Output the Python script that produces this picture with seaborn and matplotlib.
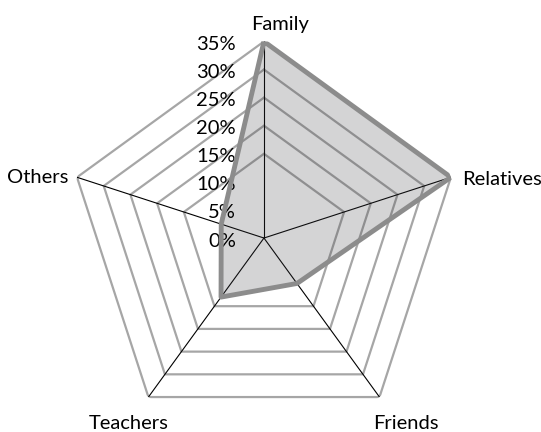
import numpy as np
import matplotlib
matplotlib.use("Agg")
import matplotlib.pyplot as plt
import matplotlib.transforms as mtransforms
import seaborn as sns
import pandas as pd

categories = ["Family", "Relatives", "Friends", "Teachers", "Others"]
values = [35, 35, 10, 13, 8]
tick_values = [0, 5, 10, 15, 20, 25, 30, 35]
tick_labels = ["0%", "5%", "10%", "15%", "20%", "25%", "30%", "35%"]
grid_levels = [15, 20, 25, 30, 35]

sns.set_style("white")
plt.rcParams['font.family'] = ['Lato', 'DejaVu Sans']

fig = plt.figure(figsize=(5.41, 4.32), dpi=100)
ax = fig.add_axes([0.1245, -0.006, 0.7268, 0.910], projection='polar')
ax.set_theta_offset(np.pi / 2)
ax.set_theta_direction(-1)
n = len(categories)
theta = np.arange(n) * 2 * np.pi / n
closed_theta = np.append(theta, theta[0])
rmax = max(tick_values)
ax.set_ylim(0, rmax)
ax.grid(False)
ax.spines['polar'].set_visible(False)
ax.set_xticks([])
ax.set_yticks([])
ax.patch.set_alpha(0)

for lv in grid_levels:
    ax.plot(closed_theta, [lv] * (n + 1), color='#a6a6a6', lw=1.6, zorder=2)
for t in theta:
    ax.plot([t, t], [0, rmax], color='black', lw=0.8, zorder=2.2)

df = pd.DataFrame({'theta': closed_theta, 'value': values + [values[0]]})
ax.fill(df['theta'], df['value'], color='#404046', alpha=0.225, zorder=3, lw=0)
sns.lineplot(data=df, x='theta', y='value', sort=False, estimator=None, ax=ax,
             color='#8c8c8c', lw=3.5, zorder=4)
ax.set_xlabel('')
ax.set_ylabel('')


def off(dx, dy):
    return ax.transData + mtransforms.ScaledTranslation(dx / 100, -dy / 100, fig.dpi_scale_trans)


for tv, tl in zip(tick_values, tick_labels):
    ax.text(0, tv, tl, transform=off(-28, 3), ha='right', va='center', fontsize=14.5, color='black')

label_style = {
    "Family": (16, -17, 'center'),
    "Relatives": (11, 2, 'left'),
    "Friends": (26, 26, 'center'),
    "Teachers": (-20, 26, 'center'),
    "Others": (-9, 0, 'right'),
}
for t, c in zip(theta, categories):
    dx, dy, ha = label_style[c]
    ax.text(t, rmax, c, transform=off(dx, dy), ha=ha, va='center', fontsize=14.5, color='black')

fig.savefig("out.png", dpi=100)
